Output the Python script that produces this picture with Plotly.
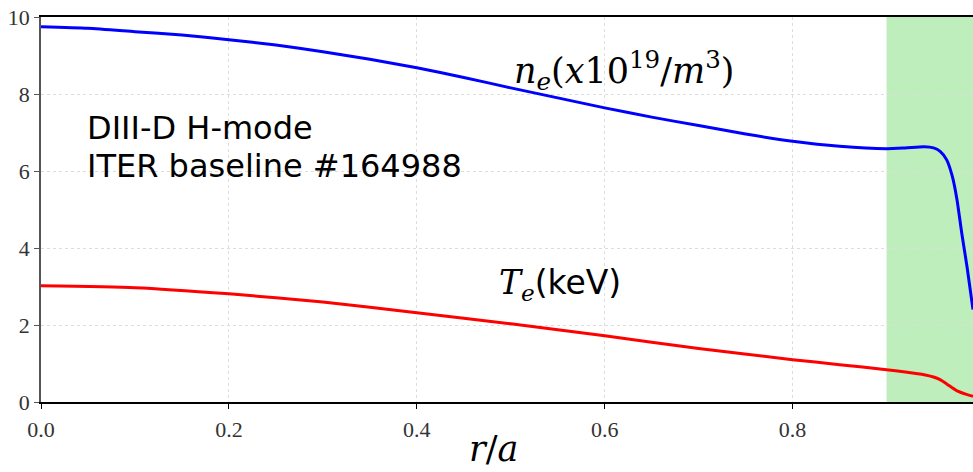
import plotly.graph_objects as go

# r/a positions and profiles
r_ne = [0.0, 0.05, 0.1, 0.15, 0.2, 0.25, 0.3, 0.35, 0.4, 0.45, 0.5, 0.55, 0.6, 0.65, 0.7, 0.75, 0.8, 0.85, 0.9, 0.92, 0.94, 0.95, 0.957, 0.964, 0.97, 0.975, 0.98, 0.9856, 0.992]
ne = [9.75, 9.71, 9.62, 9.53, 9.41, 9.27, 9.1, 8.9, 8.68, 8.43, 8.16, 7.9, 7.64, 7.4, 7.18, 6.96, 6.77, 6.64, 6.58, 6.6, 6.63, 6.6, 6.51, 6.29, 5.86, 5.25, 4.39, 3.52, 2.4]

r_te = [0.0, 0.1, 0.2, 0.3, 0.4, 0.5, 0.6, 0.7, 0.8, 0.85, 0.9, 0.92, 0.94, 0.95, 0.957, 0.964, 0.975, 0.985, 0.992]
te = [3.02, 2.97, 2.81, 2.6, 2.32, 2.03, 1.72, 1.39, 1.1, 0.97, 0.84, 0.78, 0.71, 0.65, 0.58, 0.47, 0.29, 0.2, 0.15]

pedestal_start = 0.9
x_ticks = [0.0, 0.2, 0.4, 0.6, 0.8]
x_labels = ["0.0", "0.2", "0.4", "0.6", "0.8"]
y_ticks = [0, 2, 4, 6, 8, 10]

fig = go.Figure()
fig.add_vrect(x0=pedestal_start, x1=1.05, fillcolor="rgb(189,238,187)", opacity=1,
              line_width=0, layer="below")
fig.add_trace(go.Scatter(x=r_ne, y=ne, mode="lines", line=dict(color="#0000ff", width=3, shape="spline", smoothing=0.6)))
fig.add_trace(go.Scatter(x=r_te, y=te, mode="lines", line=dict(color="#ff0000", width=3, shape="spline", smoothing=0.6)))

gothic = "DejaVu Sans, sans-serif"
math = "DejaVu Serif, serif"
tickfont = "Liberation Serif, serif"

fig.add_annotation(x=0.047, y=7.12, xref="x", yref="y", text="DIII-D H-mode", showarrow=False,
                   xanchor="left", yanchor="middle", font=dict(family=gothic, size=32, color="black"))
fig.add_annotation(x=0.047, y=6.12, xref="x", yref="y", text="ITER baseline #164988", showarrow=False,
                   xanchor="left", yanchor="middle", font=dict(family=gothic, size=32, color="black"))
fig.add_annotation(x=0.62, y=8.6, xref="x", yref="y",
                   text="<i>n<sub>e</sub></i>(<i>x</i>10<sup>19</sup>/<i>m</i><sup>3</sup>)",
                   showarrow=False, xanchor="center", yanchor="middle",
                   font=dict(family=math, size=35, color="black"))
fig.add_annotation(x=0.552, y=3.05, xref="x", yref="y",
                   text="<i>T<sub>e</sub></i><span style='font-family:DejaVu Sans'>(keV)</span>",
                   showarrow=False, xanchor="center", yanchor="middle",
                   font=dict(family=math, size=33, color="black"))
fig.add_annotation(x=0.486, y=-0.178, xref="paper", yref="paper", text="<i>r</i>/<i>a</i>",
                   showarrow=False, xanchor="center", yanchor="bottom",
                   font=dict(family=math, size=35, color="black"))

fig.update_layout(
    width=973, height=472,
    margin=dict(l=41, r=0, t=17, b=70),
    plot_bgcolor="white", paper_bgcolor="white",
    showlegend=False,
    font=dict(family=tickfont, size=22, color="#333333"),
)
fig.update_xaxes(range=[0, 0.992], tickvals=x_ticks, ticktext=x_labels,
                 ticks="outside", ticklen=5, tickcolor="black", ticklabelstandoff=2,
                 showline=True, linecolor="black", linewidth=1.5,
                 mirror=True, showgrid=True, gridcolor="#dddddd", griddash="dot", gridwidth=1, zeroline=False)
fig.update_yaxes(range=[0, 10], tickvals=y_ticks, ticks="outside", ticklen=5, tickcolor="#555555",
                 showline=True, linecolor="#555555", linewidth=1.5, showgrid=True, gridcolor="#dddddd",
                 griddash="dot", gridwidth=1, zeroline=False)

fig.write_html("out.html")
